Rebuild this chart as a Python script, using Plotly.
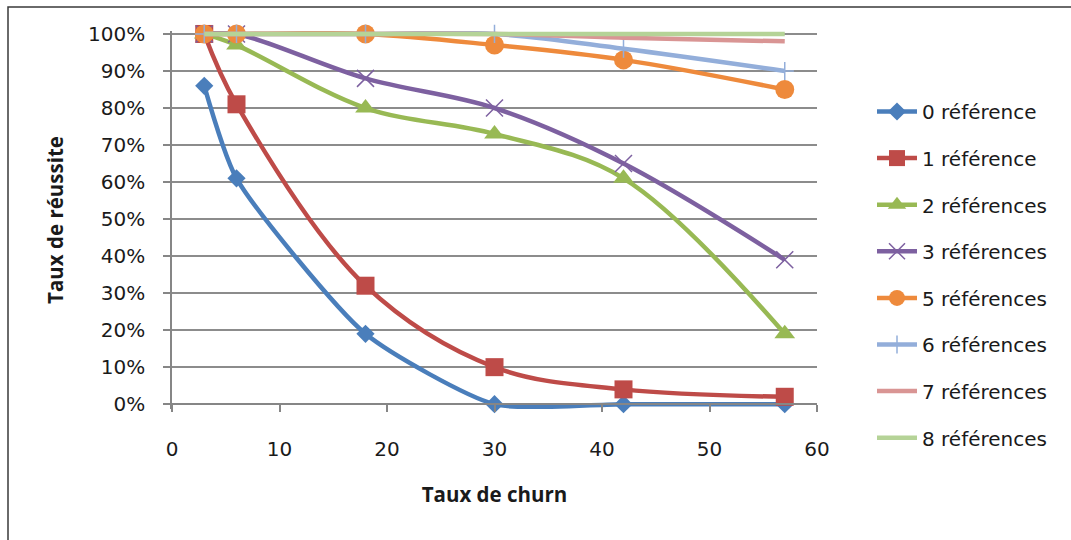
import plotly.graph_objects as go

# Taux de churn (x) and taux de réussite (%) per number of references
churn = [3, 6, 18, 30, 42, 57]

series_names = [
    "0 référence", "1 référence", "2 références", "3 références",
    "5 références", "6 références", "7 références", "8 références",
]
ref0 = [86, 61, 19, 0, 0, 0]
ref1 = [100, 81, 32, 10, 4, 2]
ref2 = [100, 97, 80, 73, 61, 19]
ref3 = [100, 100, 88, 80, 65, 39]
ref5 = [100, 100, 100, 97, 93, 85]
ref6 = [100, 100, 100, 100, 96, 90]
ref7 = [100, 100, 100, 100, 99, 98]
ref8 = [100, 100, 100, 100, 100, 100]

y_ticks = [0, 10, 20, 30, 40, 50, 60, 70, 80, 90, 100]
y_tick_labels = [f"{v}%" for v in y_ticks]
x_ticks = [0, 10, 20, 30, 40, 50, 60]

values = [ref0, ref1, ref2, ref3, ref5, ref6, ref7, ref8]
colors = ["#4A7EBB", "#BE4B48", "#98B954", "#7D60A0",
          "#EE8A3C", "#93AEDA", "#D99594", "#B5D397"]
markers = [
    dict(symbol="diamond", size=14),
    dict(symbol="square", size=18),
    dict(symbol="triangle-up", size=18),
    dict(symbol="x-thin", size=17, line=dict(width=1.5)),
    dict(symbol="circle", size=19),
    dict(symbol="cross-thin", size=13, line=dict(width=1.5)),
    None,
    None,
]
smooth = [0.6, 1, 1, 1, 1, 1, 1, 1]

TICK_FONT = "DejaVu Sans, sans-serif"
TITLE_FONT = "Open Sans, DejaVu Sans, sans-serif"
TXT = "#1a1a1a"

fig = go.Figure()
for i, (name, ys, col, mk, sm) in enumerate(zip(series_names, values, colors, markers, smooth)):
    if mk is not None:
        m = dict(mk)
        m["color"] = col
        ln = dict(m.get("line", {"width": 0}))
        ln["color"] = col
        m["line"] = ln
        mode = "lines+markers"
    else:
        m = None
        mode = "lines"
    fig.add_trace(go.Scatter(
        x=churn, y=ys, name=name, mode=mode,
        line=dict(color=col, width=4.5, shape="spline", smoothing=sm),
        marker=m, legendgroup=f"g{i}",
        cliponaxis=False,
    ))

# pixel frame of the plotting area; the y range is padded a little so that
# thick lines sitting on 0% / 100% are not clipped
W, H = 1071, 540
X0, X1 = 172, 817          # x = 0 .. 60
Y0, Y100 = 404, 34         # y = 0% .. 100%
ylo, yhi = -1.3, 100.8
py = (Y0 - Y100) / 100.0
T = Y100 - (yhi - 100) * py
B = H - (Y0 + (0 - ylo) * py)
L, R = X0, W - X1
pw, ph = W - L - R, H - T - B


def px_to_paper_y(y):
    return (H - B - y) / ph


def px_to_paper_x(x):
    return (x - L) / pw


fig.update_layout(
    width=W, height=H,
    margin=dict(l=L, r=R, t=T, b=B),
    paper_bgcolor="white", plot_bgcolor="white",
    font=dict(family=TICK_FONT, size=20, color=TXT),
    showlegend=True,
    legend=dict(
        x=px_to_paper_x(872), y=px_to_paper_y(92), xanchor="left", yanchor="top",
        font=dict(family=TICK_FONT, size=20, color=TXT),
        tracegroupgap=17.6, itemwidth=40, maxheight=520,
        bgcolor="rgba(0,0,0,0)",
    ),
    xaxis=dict(
        range=[0, 60], tickvals=x_ticks, ticktext=[str(v) for v in x_ticks],
        anchor="free", position=(0 - ylo) / (yhi - ylo),
        showgrid=False, zeroline=False,
        showline=True, linecolor="#868686", linewidth=1.5,
        ticks="outside", ticklen=7, tickcolor="#868686", tickwidth=1.5,
        ticklabelstandoff=20,
        tickfont=dict(family=TICK_FONT, size=20, color=TXT),
        title=dict(text="<b>Taux de churn</b>", standoff=27,
                   font=dict(family=TITLE_FONT, size=20.5, color=TXT)),
    ),
    yaxis=dict(
        range=[ylo, yhi], tickvals=y_ticks, ticktext=y_tick_labels,
        showgrid=True, gridcolor="#8c8c8c", gridwidth=1.5,
        zeroline=False,
        showline=True, linecolor="#868686", linewidth=1.5,
        ticks="outside", ticklen=7, tickcolor="#868686", tickwidth=1.5,
        ticklabelstandoff=14,
        tickfont=dict(family=TICK_FONT, size=20, color=TXT),
        title=dict(text="<b>Taux de réussite</b>", standoff=19,
                   font=dict(family=TITLE_FONT, size=20.5, color=TXT)),
    ),
    shapes=[dict(
        type="rect", xref="paper", yref="paper", layer="below",
        x0=px_to_paper_x(8), y0=px_to_paper_y(7), x1=2.0, y1=-1.0,
        line=dict(color="#3a3a3a", width=1.5), fillcolor="rgba(0,0,0,0)",
    )],
)

fig.write_html("out.html")
